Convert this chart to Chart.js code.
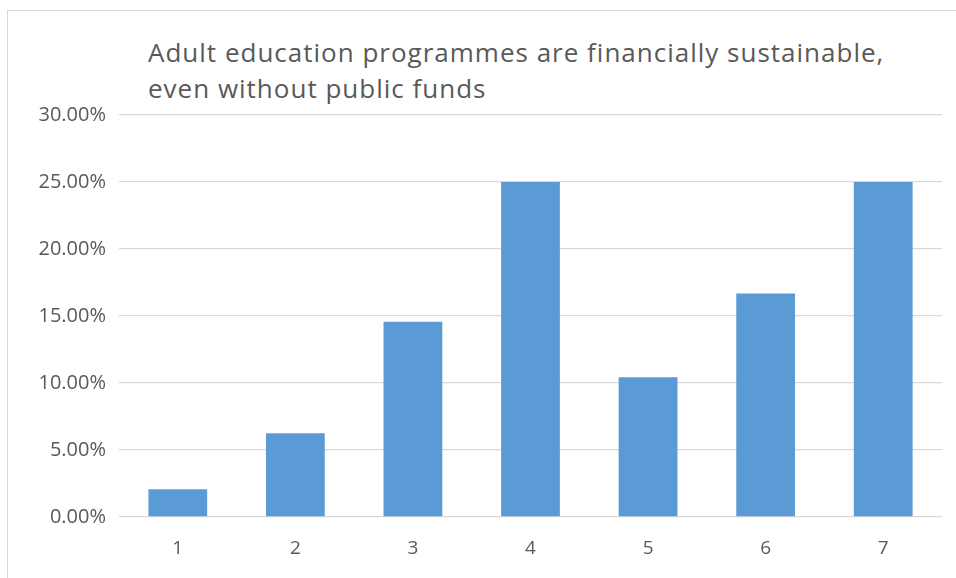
<!DOCTYPE html>
<html lang="en">
<head>
    <meta charset="UTF-8">
    <title>Adult education programmes</title>
    <script src="https://cdn.jsdelivr.net/npm/chart.js"></script>
    <style>
        html, body {
            margin: 0;
            padding: 0;
            background: #ffffff;
            overflow: hidden;
        }
        .moldura {
            position: absolute;
            left: 7px;
            top: 10px;
            width: 980px;
            height: 600px;
            border: 1px solid #d9d9d9;
        }
        .titulo {
            position: absolute;
            left: 148px;
            top: 34px;
            font-family: "Open Sans", sans-serif;
            font-size: 26px;
            letter-spacing: 1px;
            line-height: 36px;
            color: #595959;
            white-space: nowrap;
        }
        .grafico {
            position: absolute;
            left: 0;
            top: 0;
            width: 956px;
            height: 578px;
        }
    </style>
</head>
<body>
<div class="moldura"></div>
<div class="titulo">Adult education programmes are financially sustainable,<br>even without public funds</div>
<div class="grafico">
    <canvas id="myChartCanvas"></canvas>
</div>
<script>
// respostas por ponto da escala (percentagem)
const categorias = ['1', '2', '3', '4', '5', '6', '7'];
const percentagens = [2.08, 6.25, 14.58, 25.00, 10.42, 16.67, 25.00];
const marcasEixo = [0, 5, 10, 15, 20, 25, 30];

const corBarra = '#5b9bd5';
const corTexto = '#595959';
const corGrelha = '#d9d9d9';

const config = {
    type: 'bar',
    data: {
        labels: categorias,
        datasets: [{
            data: percentagens,
            backgroundColor: corBarra,
            borderWidth: 0,
            categoryPercentage: 1.0,
            barPercentage: 0.5
        }]
    },
    options: {
        responsive: true,
        maintainAspectRatio: false,
        animation: false,
        layout: {
            padding: { left: 20, right: 14, top: 115, bottom: 0 }
        },
        plugins: {
            legend: { display: false },
            title: { display: false },
            tooltip: { enabled: false }
        },
        scales: {
            x: {
                grid: { display: false, drawTicks: false },
                border: { display: false },
                ticks: {
                    color: corTexto,
                    font: { family: 'Open Sans', size: 19 },
                    padding: 20
                },
                afterFit: function (escala) {
                    escala.height = 61;
                }
            },
            y: {
                min: 0,
                max: 30,
                afterBuildTicks: function (escala) {
                    escala.ticks = marcasEixo.map(v => ({ value: v }));
                },
                grid: { color: corGrelha, lineWidth: 1.3, drawTicks: false },
                border: { display: false },
                ticks: {
                    color: corTexto,
                    font: { family: 'Open Sans', size: 20 },
                    padding: 13,
                    callback: function (valor) {
                        return valor.toFixed(2) + '%';
                    }
                },
                afterFit: function (escala) {
                    escala.width = 99;
                }
            }
        }
    }
};

new Chart(document.getElementById('myChartCanvas'), config);
</script>
</body>
</html>
